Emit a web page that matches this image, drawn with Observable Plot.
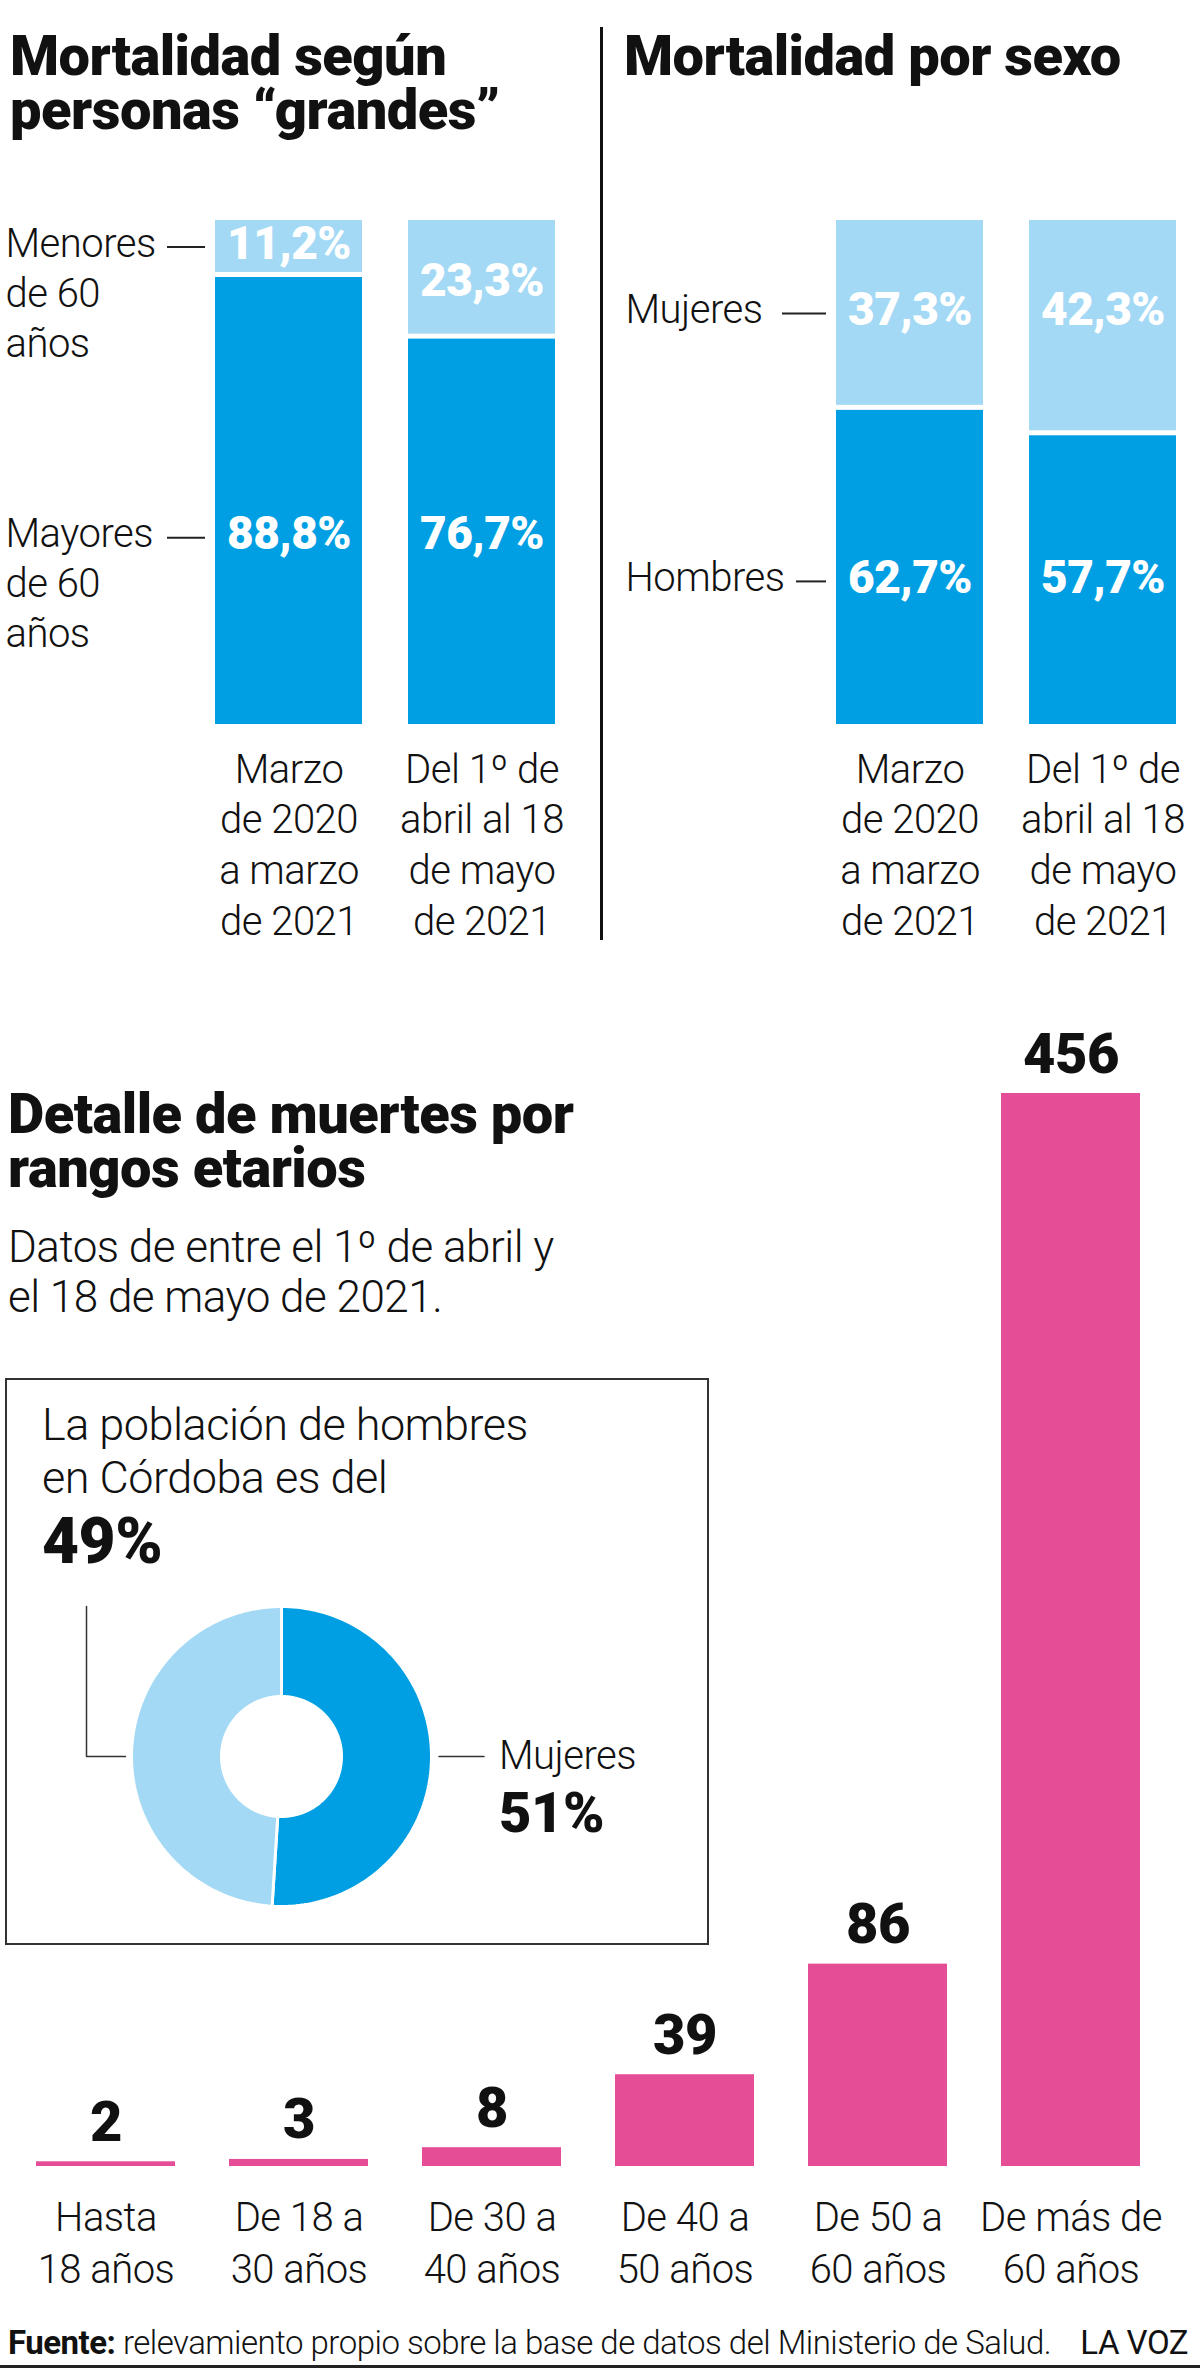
<!DOCTYPE html>
<html><head><meta charset="utf-8">
<script src="https://cdn.jsdelivr.net/npm/d3@7"></script>
<script src="https://cdn.jsdelivr.net/npm/@observablehq/plot@0.6"></script>
<style>
html,body{margin:0;padding:0;background:#fff;}
#root{position:relative;width:1200px;height:2370px;overflow:hidden;font-family:Roboto,"Noto Sans",sans-serif;color:#111;}
#root > *{position:absolute;}
.t{font-weight:900;font-size:56px;line-height:54px;letter-spacing:-0.5px;white-space:nowrap;}
.l{font-weight:300;font-size:44px;line-height:50px;letter-spacing:-0.5px;white-space:nowrap;}
</style></head><body><div id="root"></div>
<script>
// ---------- DATA ----------
const periodos = ["Marzo\nde 2020\na marzo\nde 2021", "Del 1º de\nabril al 18\nde mayo\nde 2021"];
const menores60 = [11.2, 23.3];
const mayores60 = [88.8, 76.7];
const etiquetasEdad = ["Menores\nde 60\naños", "Mayores\nde 60\naños"];
const mujeres = [37.3, 42.3];
const hombres = [62.7, 57.7];
const etiquetasSexo = ["Mujeres", "Hombres"];
const rangos = ["Hasta\n18 años", "De 18 a\n30 años", "De 30 a\n40 años", "De 40 a\n50 años", "De 50 a\n60 años", "De más de\n60 años"];
const muertes = [2, 3, 8, 39, 86, 456];
const poblacionSexo = ["Mujeres", "Hombres"];
const poblacionPct = [51, 49];

const AZUL = "#009FE3", CELESTE = "#A3D9F5", ROSA = "#E54E96", TINTA = "#111";
const root = document.getElementById("root");
const baseStyle = {background: "transparent", fontFamily: "Roboto, 'Noto Sans', sans-serif", letterSpacing: "-0.5px", overflow: "visible", color: TINTA};

function place(el, left, top) { el.style.position = "absolute"; el.style.left = left + "px"; el.style.top = top + "px"; root.appendChild(el); return el; }
function html(left, top, cls, content, extra) {
  const d = document.createElement("div"); d.className = cls || ""; d.innerHTML = content;
  if (extra) Object.assign(d.style, extra);
  return place(d, left, top);
}
const pct = v => v.toFixed(1).replace(".", ",") + "%";

// ---------- TOP STACKED CHARTS ----------
function stacked({oscuro, claro, etiquetas, marginLeft, marginRight, yClaro, yOscuro, labelDx, dashLens}) {
  const rows = [];
  periodos.forEach((p, i) => {
    rows.push({periodo: p, tipo: "oscuro", valor: oscuro[i]});
    rows.push({periodo: p, tipo: "claro", valor: claro[i]});
  });
  const sideDy = 0.32 * 46 - 0.71 * 40 - 9;
  const frameW = 600 - marginLeft - marginRight;
  const gap = 10;
  const labelYs = [yClaro(0), yOscuro(0)];
  return Plot.plot({
    width: 600, height: 810, marginTop: 65, marginBottom: 236, marginLeft, marginRight,
    x: {domain: periodos, paddingInner: 0.24, paddingOuter: 0, axis: null},
    y: {domain: [0, 100], axis: null},
    color: {domain: ["oscuro", "claro"], range: [AZUL, CELESTE]},
    style: baseStyle,
    marks: [
      Plot.barY(rows, Plot.stackY({x: "periodo", y: "valor", fill: "tipo", order: ["oscuro", "claro"], insetTop: 5})),
      Plot.text(periodos, {x: d => d, y: (d, i) => yClaro(i), text: (d, i) => pct(claro[i]), fill: "white", fontWeight: 900, fontSize: 46}),
      Plot.text(periodos, {x: d => d, y: (d, i) => yOscuro(i), text: (d, i) => pct(oscuro[i]), fill: "white", fontWeight: 900, fontSize: 46}),
      Plot.text(periodos, {x: d => d, y: 0, text: d => d, lineAnchor: "top", dy: 22, fontSize: 40, fontWeight: 300, lineHeight: 1.27, fill: TINTA}),
      ...etiquetas.map((e, k) =>
        Plot.text([e], {frameAnchor: "left", y: () => labelYs[k], text: d => d, textAnchor: "start", lineAnchor: "top", dx: labelDx, dy: sideDy, fontSize: 40, fontWeight: 300, lineHeight: 1.25, fill: TINTA})),
      ...labelYs.map((v, k) =>
        Plot.ruleY([v], {y: d => d, dy: 3, insetLeft: -(gap + dashLens[k]), insetRight: frameW + gap, stroke: "#222", strokeWidth: 2}))
    ]
  });
}

const izq = stacked({
  oscuro: mayores60, claro: menores60, etiquetas: etiquetasEdad, marginLeft: 215, marginRight: 45, labelDx: -210, dashLens: [38, 38],
  yClaro: i => mayores60[i] + menores60[i] / 2 - (i ? 1.2 : 0),
  yOscuro: i => 37.3
});
place(izq, 0, 150);

const der = stacked({
  oscuro: hombres, claro: mujeres, etiquetas: etiquetasSexo, marginLeft: 236, marginRight: 24, labelDx: -211, dashLens: [44, 30],
  yClaro: i => hombres[0] + mujeres[0] / 2,
  yOscuro: i => 28.7
});
place(der, 600, 150);

html(10, 29, "t", "Mortalidad según<br>personas “grandes”");
html(624, 29, "t", "Mortalidad por sexo");
html(600, 27, "", "", {width: "3px", height: "913px", background: TINTA});

// ---------- BOTTOM BAR CHART ----------
const barras = Plot.plot({
  width: 1200, height: 1330, marginTop: 93, marginBottom: 164, marginLeft: 35, marginRight: 59,
  x: {domain: rangos, paddingInner: 0.28, paddingOuter: 0, axis: null},
  y: {domain: [0, d3.max(muertes)], axis: null},
  style: baseStyle,
  marks: [
    Plot.barY(muertes, {x: (d, i) => rangos[i], y: d => d, fill: ROSA}),
    Plot.text(muertes, {x: (d, i) => rangos[i], y: d => d, text: d => String(d), lineAnchor: "bottom", dy: -21, fontSize: 56, fontWeight: 900, fill: TINTA}),
    Plot.text(rangos, {x: d => d, y: 0, text: d => d, lineAnchor: "top", dy: 28, fontSize: 40, fontWeight: 300, lineHeight: 1.3, fill: TINTA})
  ]
});
place(barras, 0, 1000);

html(8, 1087, "t", "Detalle de muertes por<br>rangos etarios");
html(8, 1222, "l", "Datos de entre el 1º de abril y<br>el 18 de mayo de 2021.");

// ---------- BOX WITH DONUT ----------
html(5, 1378, "", "", {width: "700px", height: "563px", border: "2px solid #333", background: "#fff"});

const total = d3.sum(poblacionPct);
const R = 1, r0 = 0.4, pts = [];
let acc = 0;
poblacionPct.forEach((v, i) => {
  const a0 = acc / total * 2 * Math.PI; acc += v; const a1 = acc / total * 2 * Math.PI;
  const n = 120;
  for (let k = 0; k <= n; k++) { const a = a0 + (a1 - a0) * k / n; pts.push({sexo: poblacionSexo[i], x: R * Math.sin(a), y: R * Math.cos(a)}); }
  for (let k = n; k >= 0; k--) { const a = a0 + (a1 - a0) * k / n; pts.push({sexo: poblacionSexo[i], x: r0 * Math.sin(a), y: r0 * Math.cos(a)}); }
});
const W = 704, H = 567, cx = 276, cy = 378, px = 150;
const dona = Plot.plot({
  width: W, height: H, margin: 0,
  x: {domain: [-cx / px, (W - cx) / px], range: [0, W], axis: null},
  y: {domain: [-(H - cy) / px, cy / px], range: [H, 0], axis: null},
  color: {domain: poblacionSexo, range: [AZUL, CELESTE]},
  style: baseStyle,
  marks: [
    Plot.line(pts, {x: "x", y: "y", z: "sexo", fill: "sexo", stroke: "white", strokeWidth: 3, curve: "linear-closed"}),
    Plot.line([[-1.30 * R, 1.0 * R], [-1.30 * R, 0], [-1.04 * R, 0]], {stroke: "#333", strokeWidth: 1.5}),
    Plot.line([[1.05 * R, 0], [1.35 * R, 0]], {stroke: "#333", strokeWidth: 1.5}),
    Plot.text([poblacionSexo[0]], {x: 1.45 * R, y: 0, text: d => d, textAnchor: "start", fontSize: 40, fontWeight: 300, fill: TINTA}),
    Plot.text([poblacionPct[0]], {x: 1.45 * R, y: 0, text: d => d + "%", textAnchor: "start", dy: 58, fontSize: 56, fontWeight: 900, fill: TINTA})
  ]
});
place(dona, 5, 1378);

html(42, 1398, "l", "La población de hombres<br>en Córdoba es del", {lineHeight: "53px", fontSize: "45px"});
html(42, 1514, "t", poblacionPct[1] + "%", {lineHeight: "56px", fontSize: "64px"});

// ---------- FOOTER ----------
html(8, 2326, "", "<span><b style='font-weight:700'>Fuente:</b> relevamiento propio sobre la base de datos del Ministerio de Salud.</span><span style='font-weight:400'>LA VOZ</span>",
  {width: "1180px", display: "flex", justifyContent: "space-between", fontSize: "33px", lineHeight: "33px", fontWeight: "300", letterSpacing: "-0.5px", whiteSpace: "nowrap"});
html(0, 2365, "", "", {width: "1200px", height: "3px", background: "#222"});
</script></body></html>
